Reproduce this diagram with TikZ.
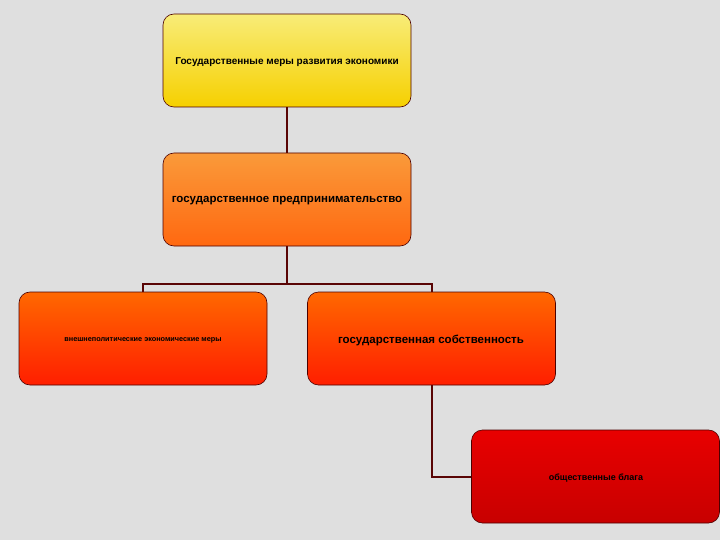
\documentclass[tikz,border=0pt]{standalone}
\usepackage{fontspec}
\setmainfont{Liberation Sans}
\begin{document}
\begin{tikzpicture}[x=1pt,y=-1pt,
  box/.style={draw=black!70!red,line width=0.6pt,rounded corners=11pt,minimum width=248pt,minimum height=93pt,inner sep=0pt},
  lbl/.style={font=\bfseries,text=black},
  conn/.style={draw={rgb,255:red,90;green,5;blue,5},line width=2pt}]
\fill[gray!25] (0,0) rectangle (720,540);
\useasboundingbox (0,0) rectangle (720,540);
\definecolor{yt}{RGB}{248,236,120}\definecolor{yb}{RGB}{246,208,0}
\definecolor{ot}{RGB}{250,154,58}\definecolor{ob}{RGB}{255,104,16}
\definecolor{rt}{RGB}{255,104,0}\definecolor{rb}{RGB}{255,30,0}
\definecolor{et}{RGB}{232,0,0}\definecolor{eb}{RGB}{200,0,0}
\node[box,top color=yt,bottom color=yb] (a) at (287,60.5) {};
\node[box,top color=ot,bottom color=ob] (b) at (287,199.5) {};
\node[box,top color=rt,bottom color=rb] (c) at (143,338.5) {};
\node[box,top color=rt,bottom color=rb] (d) at (431.5,338.5) {};
\node[box,top color=et,bottom color=eb] (e) at (595.5,476.5) {};
\node[lbl,font=\bfseries\fontsize{10}{12}\selectfont] (ta) at (287,62) {Государственные меры развития экономики};
\node[lbl,font=\bfseries\fontsize{11.5}{13}\selectfont] (tb) at (287,201) {государственное предпринимательство};
\node[lbl,font=\bfseries\fontsize{7.3}{9}\selectfont] (tc) at (143,340) {внешнеполитические экономические меры};
\node[lbl,font=\bfseries\fontsize{11.5}{13}\selectfont] (td) at (431,340) {государственная собственность};
\node[lbl,font=\bfseries\fontsize{9}{11}\selectfont] (te) at (596,478) {общественные блага};
\coordinate (j) at (287,284);
\draw[conn] (a.south) -- (b.north);
\draw[conn] (b.south) -- (j);
\draw[conn] (j) -| (c.north);
\draw[conn] (j) -| (d.north);
\draw[conn] (d.south) |- (e.west);
\end{tikzpicture}
\end{document}
